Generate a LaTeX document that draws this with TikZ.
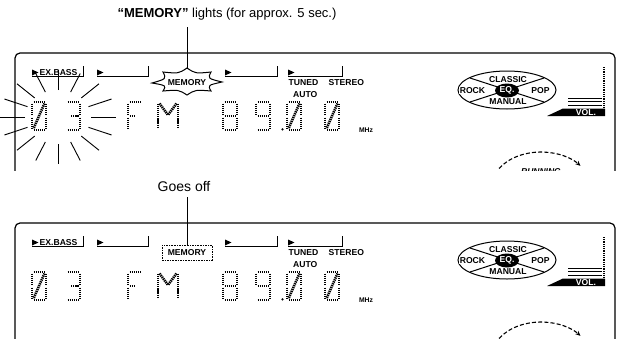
\documentclass[tikz,border=0pt]{standalone}
\usepackage{fontspec}
\setmainfont{Liberation Sans}
\usetikzlibrary{arrows.meta}
\tikzset{
  lcdlab/.style={font=\bfseries\fontsize{8.6}{9}\selectfont, inner sep=0pt},
  smalllab/.style={font=\bfseries\fontsize{6.8}{7}\selectfont, inner sep=0pt},
  frameline/.style={line width=1.2pt, rounded corners=5pt},
  brk/.style={line width=1pt},
  lcdseg/.style={line width=2.6pt, dash pattern=on 1.3pt off 0.8pt},
  rayline/.style={line width=0.9pt},
  callout/.style={line width=1pt},
  captext/.style={font=\fontsize{13}{15}\selectfont, inner sep=0pt},
}
% segment pieces of a 14 x 28 LCD digit, relative to its top-left corner
\def\SGa{(1.5,49)--(12.5,49)}
\def\SGb{(14,50.5)--(14,61.5)}
\def\SGc{(14,64.5)--(14,75.5)}
\def\SGd{(1.5,77)--(12.5,77)}
\def\SGe{(0,64.5)--(0,75.5)}
\def\SGf{(0,50.5)--(0,61.5)}
\def\SGg{(1.5,63)--(12.5,63)}
\def\SGh{(1.5,63)--(6,63)}
\def\SGi{(5,63)--(12.5,63)}
\def\SGs{(12.5,50.5)--(1.5,75.5)}
\newcommand\lcddigit[2]{%
  \begin{scope}[shift={(#1,0)}]
    \foreach \s in {#2}{\edef\tmpseg{\noexpand\draw[lcdseg] \csname SG\s\endcsname;}\tmpseg}
  \end{scope}}
\newcommand\lcdtri[1]{\fill (#1,16.5) -- (#1+6.5,19.5) -- (#1,22.5) -- cycle;}
\newcommand\panelcommon[1]{%
  \draw[frameline] (15,120) -- (15,0) -- (615,0) -- (615,120);
  % bracket row
  \lcdtri{32}
  \node[lcdlab, anchor=west] (#1bass) at (39.5,19.5) {EX.BASS};
  \draw[brk] (32,23.5) -- (83,23.5) -- (83,13);
  \lcdtri{97}
  \draw[brk] (97,23.5) -- (148,23.5) -- (148,13);
  \lcdtri{225}
  \draw[brk] (225,23.5) -- (277,23.5) -- (277,13);
  \lcdtri{288}
  \draw[brk] (288,23.5) -- (342,23.5) -- (342,13);
  \node[lcdlab, anchor=west] (#1tuned) at (288.5,30) {TUNED};
  \node[lcdlab, anchor=west] (#1stereo) at (328.5,30) {STEREO};
  \node[lcdlab, anchor=west] (#1auto) at (293,42) {AUTO};
  % digits
  \lcddigit{32}{a,b,c,d,e,f,s}
  \lcddigit{66}{a,b,i,c,d}
  \lcddigit{128}{a,f,e,h}
  \begin{scope}[shift={(158,0)}]
    \draw[lcdseg] (0,50.5) -- (0,75.5);
    \draw[lcdseg] (20,50.5) -- (20,75.5);
    \draw[lcdseg] (1.5,50.5) -- (10,62);
    \draw[lcdseg] (18.5,50.5) -- (10,62);
  \end{scope}
  \lcddigit{223}{a,b,c,d,e,f,g}
  \lcddigit{256}{a,b,c,d,f,g}
  \fill (282.5,76.3) circle (1.2pt);
  \lcddigit{287}{a,b,c,d,e,f,s}
  \lcddigit{325}{a,b,c,d,e,f,s}
  \node[smalllab] (#1mhz) at (366,77.5) {MHz};
  % EQ oval
  \draw[line width=1pt] (507,37) ellipse [x radius=49, y radius=19];
  \draw[line width=1pt] (470,25) -- (544,49);
  \draw[line width=1pt] (470,49) -- (544,25);
  \node[lcdlab, fill=white, inner sep=0.6pt] (#1classic) at (508,26.5) {CLASSIC};
  \node[lcdlab, fill=white, inner sep=0.6pt] (#1manual) at (508,48.5) {MANUAL};
  \node[lcdlab, fill=white, inner sep=0.4pt] (#1rock) at (472.5,37.5) {ROCK};
  \node[lcdlab, fill=white, inner sep=0.4pt] (#1pop) at (540.5,37.5) {POP};
  \fill (507,37.5) ellipse [x radius=12, y radius=7];
  \node[lcdlab, text=white] (#1eq) at (507,37.5) {EQ.};
  % volume indicator
  \draw[line width=1.3pt, dash pattern=on 0.8pt off 1pt] (604,14) -- (604,54);
  \draw[line width=0.8pt] (568,45) -- (602,45);
  \draw[line width=0.8pt] (568,48.5) -- (602,48.5);
  \draw[line width=0.8pt] (568,52) -- (602,52);
  \fill (547,63) -- (563,55.5) -- (605,55.5) -- (605,63) -- cycle;
  \node[lcdlab, text=white] (#1vol) at (586,59.5) {VOL.};
  % running arc
  \draw[line width=1.1pt, dash pattern=on 4pt off 2.2pt, -{Stealth[length=5pt,width=4.5pt]}]
    (499.1,115.4) arc[start angle=213, end angle=322, x radius=50, y radius=36];
}
\begin{document}
\begin{tikzpicture}[x=1pt,y=-1pt]
\useasboundingbox (0,0) rectangle (626,338);
% ---------- panel 1 ----------
\begin{scope}[shift={(0,53)}]
  \begin{scope}
    \clip (0,-60) rectangle (626,117);
    \panelcommon{p}
    \node[font=\bfseries\itshape\fontsize{8.5}{9}\selectfont, anchor=north, inner sep=0pt] (prun) at (541,115.5) {RUNNING};
    % flashing starburst round MEMORY
    \draw[line width=1pt] (152,30) .. controls (166.4,25.9) .. (163,19)
      .. controls (178.6,20.6) .. (187,15) .. controls (195.4,20.6) .. (211,19)
      .. controls (207.7,25.5) .. (222,29) .. controls (207.7,32.2) .. (211,38)
      .. controls (195.4,36.7) .. (187,42) .. controls (178.6,36.7) .. (163,38)
      .. controls (166.4,32.5) .. (152,30) -- cycle;
    \node[lcdlab] (mem1) at (187,29.5) {MEMORY};
    \coordinate (mem1top) at (187,15);
    % flashing rays round "03"
    \foreach \a in {0,22.5,...,337.5}
      \draw[rayline] ({58+33*cos(\a)},{64+27*sin(\a)}) -- ({58+58*cos(\a)},{64+47*sin(\a)});
  \end{scope}
\end{scope}
\node[captext] (cap1) at (227,14) {\textbf{“MEMORY”} lights (for approx. 5 sec.)};
\draw[callout, shorten <=7pt] (cap1.south -| mem1top) -- (mem1top);
% ---------- panel 2 ----------
\begin{scope}[shift={(0,223)}]
  \begin{scope}
    \clip (0,-60) rectangle (626,115);
    \panelcommon{q}
    \node[lcdlab, draw, line width=0.8pt, dash pattern=on 1.6pt off 1pt, minimum width=50pt, minimum height=15pt] (mem2) at (187,29.5) {MEMORY};
  \end{scope}
\end{scope}
\node[captext, font=\fontsize{14}{16}\selectfont] (cap2) at (184,186) {Goes off};
\draw[callout, shorten <=6pt] (cap2.south -| mem2.north) -- (mem2.north);
\end{tikzpicture}
\end{document}
